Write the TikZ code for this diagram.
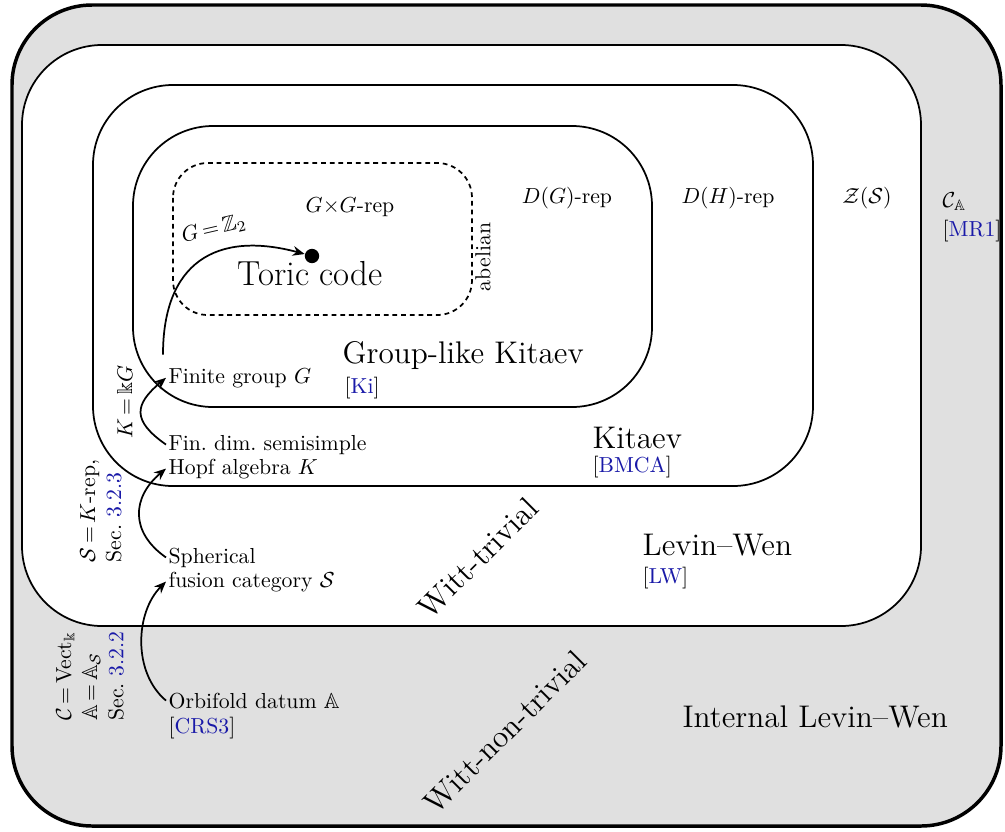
\documentclass[tikz,border=0pt]{standalone}
\usepackage{amsmath,amssymb}
\usepackage{xcolor}
\usetikzlibrary{arrows.meta}

\definecolor{citeblue}{rgb}{0.1,0.1,0.66}
\definecolor{outergray}{gray}{0.88}
\newcommand{\cit}[1]{[\textcolor{citeblue}{#1}]}
\newcommand{\secref}[1]{Sec.~\textcolor{citeblue}{#1}}

\tikzset{
	region/.style={draw,rounded corners=36.8pt,thick,fill=white},
	abelbox/.style={draw,rounded corners=16pt,thick,dash pattern=on 2.2pt off 1.8pt},
	lbl/.style={anchor=base west,inner sep=1pt},
	biglbl/.style={lbl,font=\Large},
	arr/.style={-{Stealth[length=5.5pt,width=4.5pt]},thick},
}

\begin{document}
\begin{tikzpicture}[x=0.46pt,y=0.46pt]
	\useasboundingbox (0,0) rectangle (1005,-831);
	\draw[region,fill=outergray,line width=1.6pt] (12,-5) rectangle (1001,-826);
	\draw[region] (22,-45) rectangle (921,-626);
	\draw[region] (93,-85) rectangle (813,-486);
	\draw[region] (133,-126) rectangle (652,-407);
	\draw[abelbox] (173,-163) rectangle (472,-315);

	\node[anchor=base] (gg) at (350,-212) {$G{\times}G$-rep};
	\node[anchor=base] (dg) at (567,-203) {$D(G)$-rep};
	\node[anchor=base] (dh) at (728,-203) {$D(H)$-rep};
	\node[anchor=base] (zs) at (867,-203) {$\mathcal{Z}(\mathcal{S})$};
	\node[lbl] (ca) at (940,-207) {$\mathcal{C}_{\mathbb{A}}$};
	\node[lbl] (mr) at (940,-236) {\cit{MR1}};
	\node[rotate=90] (ab) at (483,-257) {abelian};

	\node[circle,fill,inner sep=0,minimum size=6.6pt] (toric) at (312,-256) {};
	\node[lbl,font=\fontsize{16}{19}\selectfont] (tc) at (235,-285) {Toric code};
	\node[biglbl] (glk) at (340,-363) {Group-like Kitaev};
	\node[lbl] (ki) at (342,-393) {\cit{Ki}};
	\node[biglbl] (kit) at (590,-448) {Kitaev};
	\node[lbl] (bmca) at (590,-472) {\cit{BMCA}};
	\node[biglbl] (lw) at (640,-555) {Levin--Wen};
	\node[lbl] (lwc) at (640,-583) {\cit{LW}};
	\node[biglbl] (ilw) at (680,-727) {Internal Levin--Wen};
	\node[font=\Large,rotate=45] (wt) at (478,-558) {Witt-trivial};
	\node[font=\Large,rotate=45] (wnt) at (505,-732) {Witt-non-trivial};

	\node[lbl] (grp) at (166,-383) {Finite group $G$};
	\node[lbl] (hopfa) at (166,-450) {Fin.\ dim.\ semisimple};
	\node[lbl] (hopfb) at (166,-474) {Hopf algebra $K$};
	\node[lbl] (spha) at (166,-563) {Spherical};
	\node[lbl] (sphb) at (166,-587) {fusion category $\mathcal{S}$};
	\node[lbl] (orb) at (166,-708) {Orbifold datum $\mathbb{A}$};
	\node[lbl] (crs) at (166,-733) {\cit{CRS3}};

	\coordinate (gstart) at ([shift={(-3,11)}]grp.north west);
	\draw[arr] (gstart) to[out=90,in=165,looseness=1.35] (toric);
	\draw[arr] (hopfa.west) to[out=145,in=220,looseness=1.6] (grp.west);
	\draw[arr] (spha.west) to[out=145,in=220,looseness=1.28] (hopfb.west);
	\draw[arr] (orb.west) to[out=140,in=225,looseness=0.94] (sphb.west);

	\node[rotate=13] (gz) at (214,-229) {$G\,{=}\,\mathbb{Z}_2$};
	\node[rotate=90] (kg) at (125,-402) {$K\,{=}\,\Bbbk G$};
	\node[rotate=90,align=left] (sk) at (101,-511) {$\mathcal{S}\,{=}\,K$-rep,\\ \secref{3.2.3}};
	\node[rotate=90,align=left] (cv) at (90,-676) {$\mathcal{C}\,{=}\,\mathrm{Vect}_{\Bbbk}$\\ $\mathbb{A}\,{=}\,\mathbb{A}_{\mathcal{S}}$\\ \secref{3.2.2}};
\end{tikzpicture}
\end{document}
